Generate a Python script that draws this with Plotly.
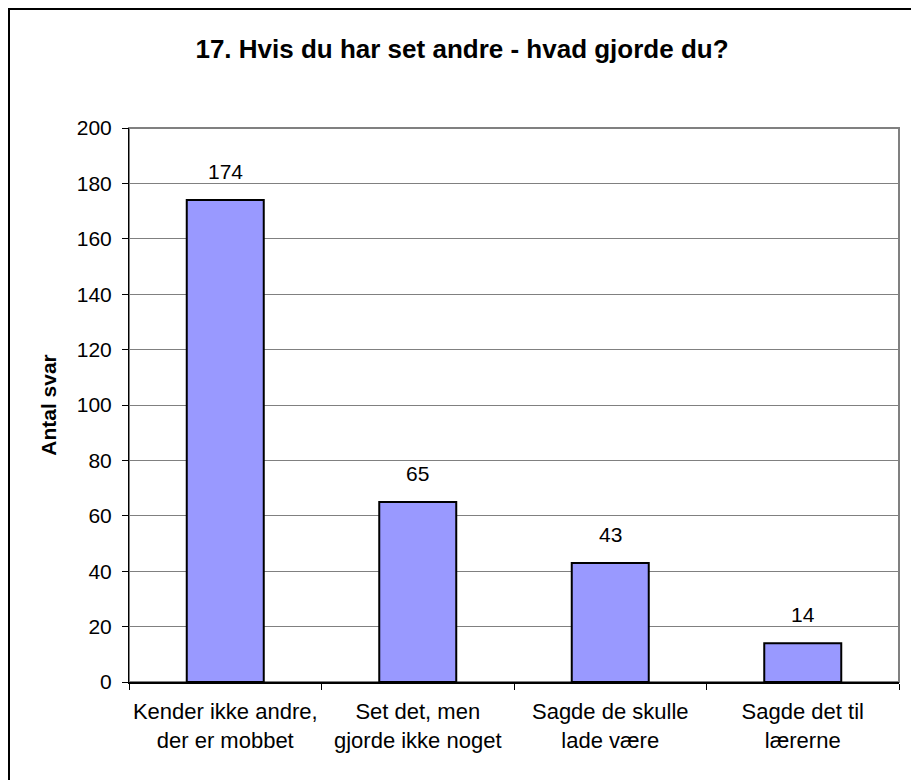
import plotly.graph_objects as go

categories = ["Kender ikke andre,<br>der er mobbet", "Set det, men<br>gjorde ikke noget",
              "Sagde de skulle<br>lade være", "Sagde det til<br>lærerne"]
values = [174, 65, 43, 14]
y_ticks = [0, 20, 40, 60, 80, 100, 120, 140, 160, 180, 200]

FONT = "Liberation Sans, Arial, sans-serif"

fig = go.Figure(go.Bar(
    x=categories,
    y=values,
    width=0.4,
    marker=dict(color="#9999FF", line=dict(color="#000000", width=2)),
))

# value labels sit well above each bar, as in the original
for cat, v in zip(categories, values):
    fig.add_annotation(x=cat, y=v, text=str(v), showarrow=False,
                       yanchor="bottom", yshift=15,
                       font=dict(family=FONT, size=21, color="#000000"))

fig.update_layout(
    width=911, height=780,
    margin=dict(l=129, r=12, t=128, b=98, autoexpand=False),
    paper_bgcolor="white", plot_bgcolor="white",
    showlegend=False,
    bargap=0.6,
    title=dict(text="<b>17. Hvis du har set andre - hvad gjorde du?</b>",
               x=462 / 911, xref="container", xanchor="center",
               y=1 - 49 / 780, yanchor="middle",
               font=dict(family=FONT, size=26, color="#000000")),
    font=dict(family=FONT, size=21, color="#000000"),
)

fig.update_yaxes(
    range=[0, 200], tickvals=y_ticks, ticks="outside", ticklen=6, tickcolor="#000000",
    ticklabelstandoff=6, automargin=False,
    showgrid=True, gridcolor="#808080", gridwidth=1,
    showline=True, linecolor="#000000", linewidth=1,
    zeroline=False,
    tickfont=dict(size=21),
    title=dict(text="<b>Antal svar</b>", font=dict(size=21), standoff=14),
)
fig.update_xaxes(
    ticks="outside", tickson="boundaries", ticklen=6, tickcolor="#000000",
    ticklabelstandoff=9, tickangle=0, automargin=False,
    showline=True, linecolor="#000000", linewidth=2,
    tickfont=dict(size=22),
)

# plot-area frame (gray) and outer chart border (runs off the right/bottom edge)
fig.add_shape(type="rect", xref="paper", yref="paper", x0=0, x1=1, y0=0, y1=1,
              line=dict(color="#808080", width=2), layer="below")
fig.add_shape(type="rect", xref="paper", yref="paper",
              x0=(9 - 129) / 770, x1=(930 - 129) / 770,
              y0=(682 - 800) / 554, y1=(682 - 9) / 554,
              line=dict(color="#000000", width=2))

fig.write_html("out.html", config={"displayModeBar": False},
               post_script="document.body.style.margin='0';")
